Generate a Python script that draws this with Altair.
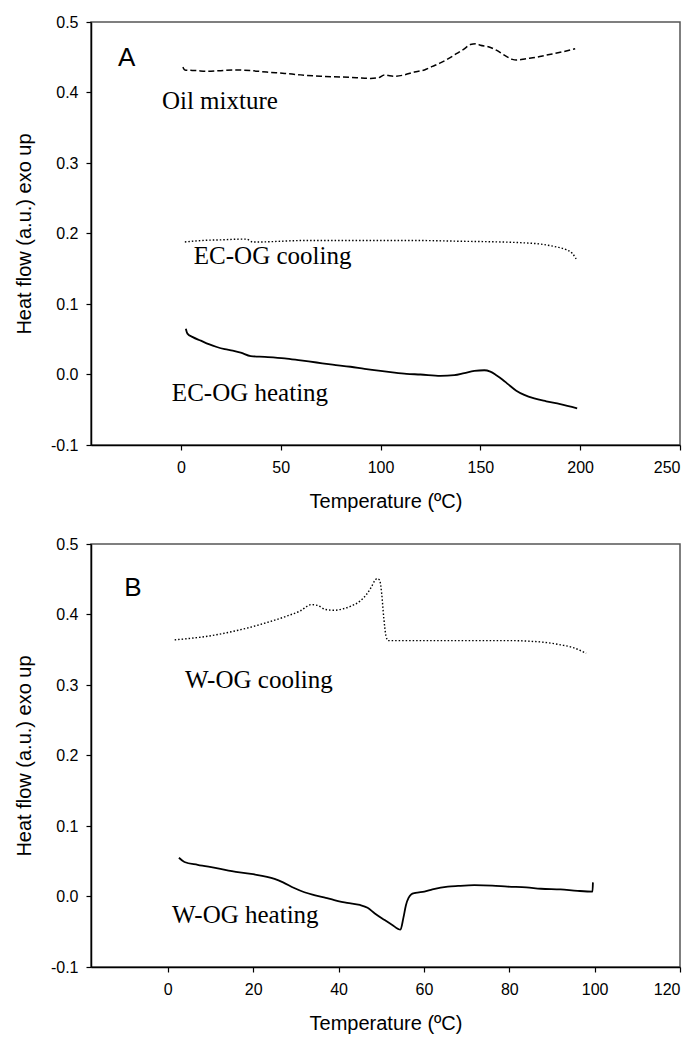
import altair as alt
import pandas as pd

# ---------------- Panel A data ----------------
oil_T = [1, 2, 8, 13, 20, 27, 35, 43, 52, 60, 70, 80, 88, 95, 99, 102, 104, 107, 112, 117,
         122, 126, 130, 134, 138, 142, 145, 148, 150, 154, 158, 162, 166, 168, 173, 178, 183, 190, 197.5]
oil_H = [0.436, 0.432, 0.431, 0.430, 0.431, 0.432, 0.431, 0.429, 0.427, 0.425, 0.423, 0.422, 0.421,
         0.420, 0.421, 0.425, 0.424, 0.423, 0.425, 0.429, 0.432, 0.437, 0.442, 0.448, 0.455, 0.462,
         0.468, 0.469, 0.467, 0.465, 0.460, 0.453, 0.447, 0.446, 0.448, 0.450, 0.453, 0.457, 0.462]

ecool_T = [2, 10, 20, 30, 33, 36, 40, 50, 60, 80, 100, 120, 140, 160, 170, 180, 188, 193, 196, 198]
ecool_H = [0.188, 0.190, 0.191, 0.192, 0.192, 0.188, 0.188, 0.189, 0.190, 0.190, 0.190, 0.190,
           0.189, 0.188, 0.187, 0.185, 0.181, 0.177, 0.172, 0.164]

eheat_T = [2.5, 3.3, 6, 10, 14, 18, 22, 26, 30, 35, 42, 52, 60, 68, 76, 85, 92, 100, 106, 113,
           120, 130, 137, 142, 147, 152, 155, 158, 161, 164, 168, 172, 177, 183, 190, 198.5]
eheat_H = [0.065, 0.058, 0.053, 0.048, 0.043, 0.039, 0.036, 0.034, 0.031, 0.026, 0.025, 0.023,
           0.020, 0.017, 0.014, 0.011, 0.008, 0.005, 0.003, 0.001, 0.000, -0.002, -0.001, 0.002,
           0.005, 0.006, 0.004, -0.001, -0.007, -0.014, -0.023, -0.029, -0.034, -0.038, -0.042, -0.048]

# ---------------- Panel B data ----------------
wcool_T = [1.6, 5, 8, 12, 16, 20, 24, 28, 31, 33.6, 35, 37, 39, 41, 43, 45, 46.5, 47.6, 48.5, 49,
           49.6, 50.1, 50.6, 51.1, 51.6, 55, 60, 70, 80, 85, 89, 92, 95, 98]
wcool_H = [0.364, 0.366, 0.368, 0.372, 0.377, 0.383, 0.390, 0.398, 0.405, 0.414, 0.413, 0.407,
           0.406, 0.408, 0.412, 0.419, 0.428, 0.438, 0.448, 0.451, 0.449, 0.430, 0.395, 0.370,
           0.363, 0.363, 0.363, 0.363, 0.363, 0.362, 0.360, 0.357, 0.353, 0.345]

wheat_T = [2.6, 3.9, 7, 11.7, 15, 19.5, 25, 27, 29.6, 32, 34.3, 37, 39, 42, 45, 46.8, 48.5, 50.7,
           52.5, 54.5, 55.2, 55.8, 56.4, 57, 58, 60.1, 62, 65.6, 68, 71.8, 76, 79.6, 84, 87.4, 92,
           96, 99.5, 99.6]
wheat_H = [0.055, 0.049, 0.045, 0.040, 0.036, 0.032, 0.025, 0.020, 0.012, 0.006, 0.002, -0.002,
           -0.005, -0.009, -0.012, -0.016, -0.024, -0.033, -0.040, -0.047, -0.030, -0.012, -0.002,
           0.003, 0.005, 0.007, 0.010, 0.014, 0.015, 0.016, 0.0155, 0.014, 0.013, 0.011, 0.010,
           0.008, 0.007, 0.020]

# ---------------- Annotations ----------------
labelsA = ["Oil mixture", "EC-OG cooling", "EC-OG heating"]
labelsA_T = [-9.5, 6.5, -4.5]
labelsA_H = [0.388, 0.168, -0.026]

labelsB = ["W-OG cooling", "W-OG heating"]
labelsB_T = [4.0, 1.0]
labelsB_H = [0.307, -0.026]

letterA, letterA_T, letterA_H = "A", -31.5, 0.449
letterB, letterB_T, letterB_H = "B", -10.2, 0.438

xticksA = [0, 50, 100, 150, 200, 250]
xticksB = [0, 20, 40, 60, 80, 100, 120]
yticks = [-0.1, 0.0, 0.1, 0.2, 0.3, 0.4, 0.5]

SERIF = "Liberation Serif"
SANS = "Liberation Sans"

YLABEL = "datum.value < 0 ? '-' + format(-datum.value, '.1f') : format(datum.value, '.1f')"


def series_df(T, H):
    return pd.DataFrame({"T": T, "H": H, "i": list(range(len(T)))})


def panel(series, labels, lab_T, lab_H, letter, let_T, let_H, xdomain, xticks):
    xs = alt.Scale(domain=xdomain, nice=False, zero=False)
    ys = alt.Scale(domain=[-0.1, 0.5], nice=False, zero=False)
    xax = alt.Axis(values=xticks, format="d", title="Temperature (ºC)")
    yax = alt.Axis(values=yticks, labelExpr=YLABEL, title="Heat flow (a.u.) exo up")
    layers = []
    for (T, H, dash, sw) in series:
        mark_kw = dict(color="black", strokeWidth=sw, interpolate="monotone")
        if dash:
            mark_kw["strokeDash"] = dash
        layers.append(
            alt.Chart(series_df(T, H)).mark_line(**mark_kw).encode(
                x=alt.X("T:Q", scale=xs, axis=xax),
                y=alt.Y("H:Q", scale=ys, axis=yax),
                order="i:Q",
            )
        )
    tdf = pd.DataFrame({"T": lab_T, "H": lab_H, "txt": labels})
    layers.append(
        alt.Chart(tdf).mark_text(font=SERIF, fontSize=25, align="left", baseline="middle",
                                 color="black").encode(
            x=alt.X("T:Q", scale=xs), y=alt.Y("H:Q", scale=ys), text="txt:N")
    )
    ldf = pd.DataFrame({"T": [let_T], "H": [let_H], "txt": [letter]})
    layers.append(
        alt.Chart(ldf).mark_text(font=SANS, fontSize=26, align="left", baseline="middle",
                                 color="black").encode(
            x=alt.X("T:Q", scale=xs), y=alt.Y("H:Q", scale=ys), text="txt:N")
    )
    return alt.layer(*layers).properties(width=589, height=423)


pA = panel(
    [(oil_T, oil_H, [6, 3], 1.5), (ecool_T, ecool_H, [1.5, 2], 1.4), (eheat_T, eheat_H, None, 1.8)],
    labelsA, labelsA_T, labelsA_H, letterA, letterA_T, letterA_H, [-45, 250], xticksA)
pB = panel(
    [(wcool_T, wcool_H, [1.5, 2], 1.4), (wheat_T, wheat_H, None, 1.8)],
    labelsB, labelsB_T, labelsB_H, letterB, letterB_T, letterB_H, [-18, 120], xticksB)

chart = alt.vconcat(pA, pB, spacing=23).properties(
    padding={"left": 5, "top": 5, "right": 0, "bottom": 5}
).configure_view(
    stroke="#555555", strokeWidth=1.5
).configure_axis(
    grid=False, domainColor="black", domainWidth=1.5, tickColor="black", tickWidth=1.2,
    tickSize=5, labelFont=SANS, labelFontSize=16, labelColor="black",
    titleFont=SANS, titleFontSize=20, titleFontWeight="normal", titleColor="black",
).configure_axisX(
    labelPadding=9, titlePadding=16
).configure_axisY(
    labelPadding=8, titlePadding=16
)

chart.save("out.html", embed_options={"renderer": "svg", "actions": False})
